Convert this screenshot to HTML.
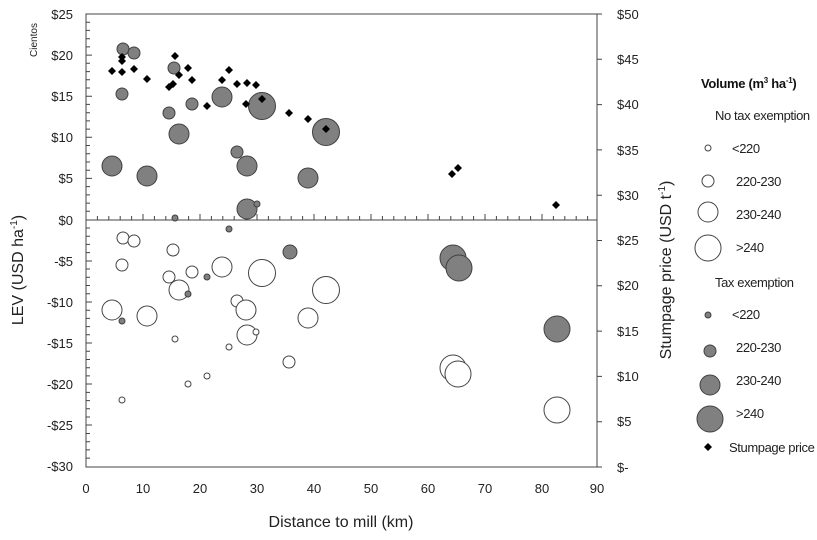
<!DOCTYPE html><html><head><style>body{margin:0;background:#fff}svg{font-family:"Liberation Sans",sans-serif}</style></head><body>
<svg width="817" height="535" viewBox="0 0 817 535" xmlns="http://www.w3.org/2000/svg">
<rect x="86" y="14" width="511" height="453" fill="none" stroke="#444" stroke-width="1"/>
<line x1="86" y1="220" x2="597" y2="220" stroke="#444"/>
<g stroke="#444">
<path d="M86 14h6M86 22.2h4M86 30.4h4M86 38.7h4M86 46.9h4M86 55.1h6M86 63.3h4M86 71.6h4M86 79.8h4M86 88h4M86 96.2h6M86 104.4h4M86 112.7h4M86 120.9h4M86 129.1h4M86 137.3h6M86 145.5h4M86 153.8h4M86 162h4M86 170.2h4M86 178.4h6M86 186.6h4M86 194.9h4M86 203.1h4M86 211.3h4M86 220h6M86 228h4M86 236.2h4M86 244.4h4M86 252.6h4M86 261h6M86 269h4M86 277.3h4M86 285.5h4M86 293.7h4M86 302h6M86 310.2h4M86 318.4h4M86 326.6h4M86 334.8h4M86 343h6M86 351.3h4M86 359.5h4M86 367.7h4M86 375.9h4M86 384h6M86 392.4h4M86 400.6h4M86 408.8h4M86 417h4M86 425h6M86 433.5h4M86 441.7h4M86 449.9h4M86 458.1h4"/>
<path d="M143 220v-6M200 220v-6M257 220v-6M314 220v-6M371 220v-6M428 220v-6M485 220v-6M542 220v-6M97.4 220v-4M108.8 220v-4M120.2 220v-4M131.6 220v-4M154.4 220v-4M165.8 220v-4M177.2 220v-4M188.6 220v-4M211.4 220v-4M222.8 220v-4M234.2 220v-4M245.6 220v-4M268.4 220v-4M279.8 220v-4M291.2 220v-4M302.6 220v-4M325.4 220v-4M336.8 220v-4M348.2 220v-4M359.6 220v-4M382.4 220v-4M393.8 220v-4M405.2 220v-4M416.6 220v-4M439.4 220v-4M450.8 220v-4M462.2 220v-4M473.6 220v-4M496.4 220v-4M507.8 220v-4M519.2 220v-4M530.6 220v-4M553.4 220v-4M564.8 220v-4M576.2 220v-4M587.6 220v-4"/>
<path d="M597 14h5M597 59.3h5M597 104.6h5M597 149.9h5M597 195.2h5M597 240.5h5M597 285.8h5M597 331.1h5M597 376.4h5M597 421.7h5M597 467h5"/>
</g>
<g font-size="13" fill="#222" text-anchor="end">
<text x="73" y="19">$25</text><text x="73" y="60">$20</text><text x="73" y="101">$15</text><text x="73" y="142">$10</text><text x="73" y="183">$5</text><text x="73" y="225">$0</text><text x="73" y="266">-$5</text><text x="73" y="307">-$10</text><text x="73" y="348">-$15</text><text x="73" y="389">-$20</text><text x="73" y="430">-$25</text><text x="73" y="471">-$30</text>
</g>
<g font-size="13" fill="#222" text-anchor="middle">
<text x="86" y="493">0</text><text x="143" y="493">10</text><text x="200" y="493">20</text><text x="257" y="493">30</text><text x="314" y="493">40</text><text x="371" y="493">50</text><text x="428" y="493">60</text><text x="485" y="493">70</text><text x="542" y="493">80</text><text x="597" y="493">90</text>
</g>
<g font-size="13" fill="#222">
<text x="617" y="19">$50</text><text x="617" y="64">$45</text><text x="617" y="109">$40</text><text x="617" y="155">$35</text><text x="617" y="200">$30</text><text x="617" y="245">$25</text><text x="617" y="290">$20</text><text x="617" y="336">$15</text><text x="617" y="381">$10</text><text x="617" y="426">$5</text><text x="617" y="472">$-</text>
</g>
<text transform="translate(37,40) rotate(-90)" font-size="10" text-anchor="middle" fill="#222">Cientos</text>
<text transform="translate(23,270) rotate(-90)" font-size="16" text-anchor="middle" fill="#222">LEV (USD ha<tspan dy="-6" font-size="10">-1</tspan><tspan dy="6">)</tspan></text>
<text transform="translate(671,270) rotate(-90)" font-size="16" text-anchor="middle" fill="#222">Stumpage price (USD t<tspan dy="-6" font-size="10">-1</tspan><tspan dy="6">)</tspan></text>
<text x="341" y="527" font-size="16" text-anchor="middle" fill="#222">Distance to mill (km)</text>
<g fill="#fff" stroke="#444" stroke-width="1">
<circle cx="123" cy="238" r="6"/><circle cx="134" cy="241" r="6"/><circle cx="122" cy="265" r="6"/><circle cx="173" cy="250" r="6"/><circle cx="169" cy="277" r="6"/><circle cx="179" cy="290" r="10"/><circle cx="192" cy="272" r="6"/><circle cx="222" cy="267" r="10"/><circle cx="262" cy="273" r="13.5"/><circle cx="326" cy="290" r="13.5"/><circle cx="237" cy="301" r="6"/><circle cx="246" cy="310" r="10"/><circle cx="247" cy="335" r="10"/><circle cx="256" cy="332" r="3"/><circle cx="112" cy="310" r="10"/><circle cx="147" cy="316" r="10"/><circle cx="308" cy="318" r="10"/><circle cx="289" cy="362" r="6"/><circle cx="175" cy="339" r="3"/><circle cx="229" cy="347" r="3"/><circle cx="207" cy="376" r="3"/><circle cx="188" cy="384" r="3"/><circle cx="122" cy="400" r="3"/>
<circle cx="453" cy="368" r="13"/><circle cx="458" cy="374" r="13"/><circle cx="557" cy="410" r="13"/>
</g>
<g fill="#808080" stroke="#404040" stroke-width="1">
<circle cx="123" cy="49" r="6"/><circle cx="134" cy="53" r="6"/><circle cx="122" cy="94" r="6"/><circle cx="112" cy="166" r="10"/><circle cx="147" cy="176" r="10"/><circle cx="174" cy="68" r="6"/><circle cx="169" cy="113" r="6"/><circle cx="179" cy="134" r="10"/><circle cx="192" cy="104" r="6"/><circle cx="222" cy="97" r="10"/><circle cx="237" cy="152" r="6"/><circle cx="247" cy="166" r="10"/><circle cx="262" cy="106" r="13.5"/><circle cx="247" cy="209" r="10"/><circle cx="257" cy="204" r="3"/><circle cx="175" cy="218" r="3"/><circle cx="308" cy="178" r="10"/><circle cx="326" cy="132" r="13.5"/>
<circle cx="229" cy="229" r="3"/><circle cx="290" cy="252" r="7"/><circle cx="207" cy="277" r="3"/><circle cx="188" cy="294" r="3"/><circle cx="122" cy="321" r="3"/>
<circle cx="453" cy="258" r="13"/><circle cx="459" cy="268" r="13"/><circle cx="557" cy="329" r="13"/>
</g>
<g fill="#000">
<path d="M0,-4L4,0L0,4L-4,0Z" transform="translate(112,71)"/>
<path d="M0,-4L4,0L0,4L-4,0Z" transform="translate(122,57)"/><path d="M0,-4L4,0L0,4L-4,0Z" transform="translate(122,61)"/><path d="M0,-4L4,0L0,4L-4,0Z" transform="translate(122,72)"/><path d="M0,-4L4,0L0,4L-4,0Z" transform="translate(134,69)"/><path d="M0,-4L4,0L0,4L-4,0Z" transform="translate(147,79)"/><path d="M0,-4L4,0L0,4L-4,0Z" transform="translate(169,87)"/><path d="M0,-4L4,0L0,4L-4,0Z" transform="translate(173,84)"/><path d="M0,-4L4,0L0,4L-4,0Z" transform="translate(175,56)"/><path d="M0,-4L4,0L0,4L-4,0Z" transform="translate(179,75)"/><path d="M0,-4L4,0L0,4L-4,0Z" transform="translate(188,68)"/><path d="M0,-4L4,0L0,4L-4,0Z" transform="translate(192,80)"/><path d="M0,-4L4,0L0,4L-4,0Z" transform="translate(207,106)"/><path d="M0,-4L4,0L0,4L-4,0Z" transform="translate(222,80)"/><path d="M0,-4L4,0L0,4L-4,0Z" transform="translate(229,70)"/><path d="M0,-4L4,0L0,4L-4,0Z" transform="translate(237,84)"/><path d="M0,-4L4,0L0,4L-4,0Z" transform="translate(247,83)"/><path d="M0,-4L4,0L0,4L-4,0Z" transform="translate(246,104)"/><path d="M0,-4L4,0L0,4L-4,0Z" transform="translate(256,85)"/><path d="M0,-4L4,0L0,4L-4,0Z" transform="translate(262,99)"/><path d="M0,-4L4,0L0,4L-4,0Z" transform="translate(289,113)"/><path d="M0,-4L4,0L0,4L-4,0Z" transform="translate(308,119)"/><path d="M0,-4L4,0L0,4L-4,0Z" transform="translate(326,129)"/><path d="M0,-4L4,0L0,4L-4,0Z" transform="translate(452,174)"/><path d="M0,-4L4,0L0,4L-4,0Z" transform="translate(458,168)"/><path d="M0,-4L4,0L0,4L-4,0Z" transform="translate(556,205)"/>
<path d="M0,-4L4,0L0,4L-4,0Z" transform="translate(708,447)"/>
</g>
<text x="701" y="88" font-size="13" font-weight="bold" fill="#111" letter-spacing="-0.3">Volume (m<tspan dy="-5" font-size="8">3</tspan><tspan dy="5"> ha</tspan><tspan dy="-5" font-size="8">-1</tspan><tspan dy="5">)</tspan></text>
<g font-size="13" fill="#222" letter-spacing="-0.4">
<text x="715" y="120">No tax exemption</text>
<text x="732" y="153">&lt;220</text><text x="736" y="186">220-230</text><text x="736" y="219">230-240</text><text x="736" y="252">&gt;240</text>
<text x="715" y="287">Tax exemption</text>
<text x="732" y="319">&lt;220</text><text x="736" y="352">220-230</text><text x="736" y="385">230-240</text><text x="736" y="418">&gt;240</text>
<text x="729" y="452">Stumpage price</text>
</g>
<g fill="#fff" stroke="#444"><circle cx="708" cy="148" r="3"/><circle cx="708" cy="181" r="6"/><circle cx="708" cy="212" r="10"/><circle cx="708" cy="248" r="13"/></g>
<g fill="#808080" stroke="#404040"><circle cx="708" cy="315" r="3"/><circle cx="710" cy="351" r="6"/><circle cx="710" cy="385" r="10"/><circle cx="710" cy="419" r="13"/></g>
</svg>
</body></html>
